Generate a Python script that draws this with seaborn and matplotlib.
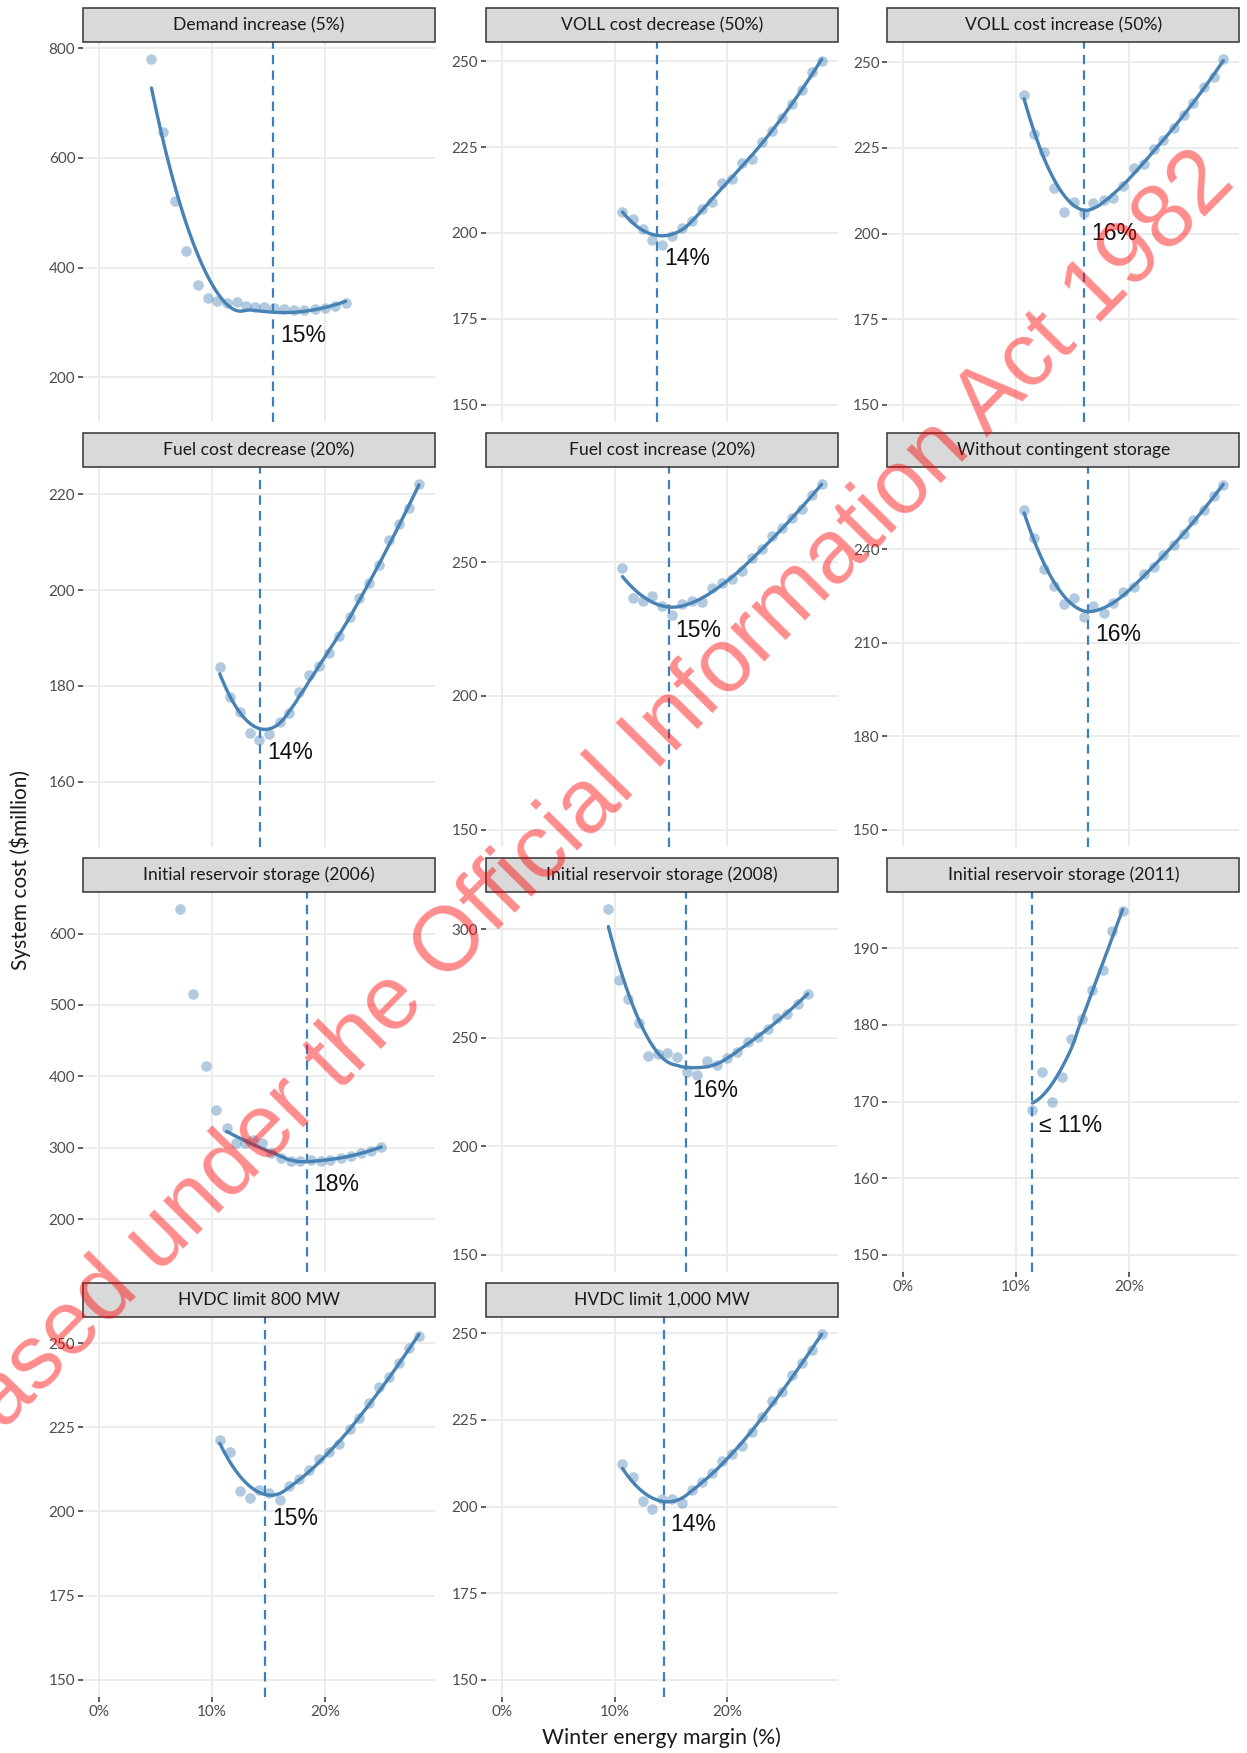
import numpy as np
import pandas as pd
import matplotlib
matplotlib.use("Agg")
import matplotlib.pyplot as plt
import seaborn as sns
from matplotlib.patches import Rectangle

# ---------------------------------------------------------------------------
# Sensitivity runs: system cost ($million) against winter energy margin (%)
# ---------------------------------------------------------------------------
panel_titles = [
    "Demand increase (5%)",
    "VOLL cost decrease (50%)",
    "VOLL cost increase (50%)",
    "Fuel cost decrease (20%)",
    "Fuel cost increase (20%)",
    "Without contingent storage",
    "Initial reservoir storage (2006)",
    "Initial reservoir storage (2008)",
    "Initial reservoir storage (2011)",
    "HVDC limit 800 MW",
    "HVDC limit 1,000 MW",
]

# winter energy margin (%) shared by most runs
margin_std = [10.7, 11.6, 12.5, 13.35, 14.2, 15.1, 16.0, 16.85, 17.75, 18.6, 19.5,
              20.4, 21.3, 22.2, 23.05, 23.95, 24.85, 25.7, 26.6, 27.5, 28.35]

margin_demand = [4.65, 5.7, 6.7, 7.75, 8.75, 9.65, 10.45, 11.35, 12.2, 13.0,
                 13.8, 14.6, 15.5, 16.4, 17.3, 18.2, 19.1, 20.0, 20.9, 21.85]
cost_demand = [780, 647, 521, 430, 369, 345, 339, 336, 337, 330,
               329, 328, 327, 325, 323, 323, 325, 327, 330, 335]

cost_voll_dec = [206.1, 204.2, 201.2, 198.0, 196.6, 199.2, 201.3, 203.6, 207.0, 209.1, 214.4,
                 215.6, 220.5, 221.4, 226.5, 229.6, 233.5, 237.5, 241.7, 246.8, 250.2]
cost_voll_inc = [240.4, 229.2, 223.9, 213.4, 206.3, 209.3, 206.0, 208.8, 209.7, 210.5, 213.8,
                 219.0, 220.3, 224.6, 227.3, 230.7, 234.6, 238.0, 242.7, 245.8, 250.9]
cost_fuel_dec = [184.0, 177.7, 174.5, 170.1, 168.7, 170.0, 172.4, 174.3, 178.7, 182.2, 184.1,
                 186.9, 190.4, 194.4, 198.4, 201.4, 205.2, 210.5, 213.9, 217.2, 222.1]
cost_fuel_inc = [247.9, 236.6, 235.4, 237.3, 233.5, 230.4, 234.5, 235.4, 235.0, 240.4, 242.3,
                 243.8, 246.6, 251.6, 254.8, 259.8, 262.9, 266.6, 270.0, 275.0, 279.1]
cost_no_contingent = [252.5, 243.7, 233.8, 228.2, 222.3, 224.5, 218.3, 221.7, 219.6, 222.8, 226.3,
                      227.9, 232.2, 234.3, 238.1, 241.3, 245.0, 249.3, 252.7, 257.0, 260.6]

margin_2006 = [7.2, 8.3, 9.5, 10.4, 11.3, 12.1, 12.9, 13.6, 14.45, 15.2, 16.1,
               17.0, 17.85, 18.75, 19.65, 20.5, 21.4, 22.3, 23.2, 24.1, 25.0]
cost_2006 = [634, 515, 414, 353, 328, 307, 307, 311, 306, 292, 285,
             281, 281, 283, 281, 283, 286, 289, 292, 296, 301]

margin_2008 = [9.45, 10.43, 11.23, 12.12, 12.95, 13.84, 14.67, 15.56, 16.44, 17.33, 18.22,
               19.11, 20.0, 20.89, 21.78, 22.67, 23.56, 24.36, 25.24, 26.22, 27.11]
cost_2008 = [309.2, 276.4, 268.0, 256.9, 241.8, 242.5, 243.0, 241.1, 234.1, 233.0, 239.1,
             237.6, 240.7, 243.5, 248.1, 250.2, 254.2, 258.9, 261.0, 265.6, 270.0]

margin_2011 = [11.44, 12.33, 13.21, 14.10, 14.90, 15.79, 16.68, 17.72, 18.52, 19.44]
cost_2011 = [168.9, 173.8, 169.9, 173.2, 178.2, 180.8, 184.6, 187.2, 192.3, 194.9]

cost_hvdc_800 = [221.2, 217.7, 206.2, 204.1, 206.5, 205.4, 203.4, 207.5, 209.7, 212.2, 215.7,
                 217.5, 219.9, 224.4, 227.6, 232.3, 236.8, 239.8, 244.2, 248.4, 252.2]
cost_hvdc_1000 = [212.4, 208.4, 201.6, 199.4, 202.1, 202.1, 201.1, 204.7, 207.1, 209.8, 213.2,
                  215.2, 217.4, 221.6, 225.8, 230.6, 233.1, 238.1, 241.3, 245.2, 249.7]

panel_margins = [margin_demand, margin_std, margin_std, margin_std, margin_std, margin_std,
                 margin_2006, margin_2008, margin_2011, margin_std, margin_std]
panel_costs = [cost_demand, cost_voll_dec, cost_voll_inc, cost_fuel_dec, cost_fuel_inc,
               cost_no_contingent, cost_2006, cost_2008, cost_2011, cost_hvdc_800, cost_hvdc_1000]

# smoother settings per run: fitted from this margin on, with this span
smooth_from = [0, 0, 0, 0, 0, 0, 11.0, 0, 0, 0, 0]
smooth_span = [1.0, 0.75, 0.75, 0.75, 0.75, 0.75, 0.75, 0.75, 1.0, 0.75, 0.75]

# least-cost winter energy margin (%) for each run
optimal_margin = [15.4, 13.75, 16.0, 14.3, 14.8, 16.4, 18.4, 16.3, 11.44, 14.75, 14.35]
optimal_prefix = ["", "", "", "", "", "", "", "", "\u2264 ", "", ""]

y_ticks = [
    [200, 400, 600, 800],
    [150, 175, 200, 225, 250],
    [150, 175, 200, 225, 250],
    [160, 180, 200, 220],
    [150, 200, 250],
    [150, 180, 210, 240],
    [200, 300, 400, 500, 600],
    [150, 200, 250, 300],
    [150, 160, 170, 180, 190],
    [150, 175, 200, 225, 250],
    [150, 175, 200, 225, 250],
]
x_ticks = [0, 10, 20]
x_tick_labels = ["0%", "10%", "20%"]
y_floor = 150


def loess(x, y, grid, span=0.75):
    """Local quadratic regression with tricube weights."""
    x = np.asarray(x, float)
    y = np.asarray(y, float)
    n = len(x)
    q = min(n, int(np.floor(n * span)))
    fitted = []
    for x0 in grid:
        d = np.abs(x - x0)
        h = np.sort(d)[q - 1] * max(1.0, span)
        w = (1 - np.clip(d / h, 0, 1) ** 3) ** 3
        A = np.column_stack([np.ones(n), x - x0, (x - x0) ** 2])
        sw = np.sqrt(w)
        beta = np.linalg.lstsq(A * sw[:, None], y * sw, rcond=None)[0]
        fitted.append(beta[0])
    return np.array(fitted)


# ---------------------------------------------------------------------------
sns.set_theme(style="white")
plt.rcParams["font.family"] = ["Lato", "DejaVu Sans"]
label_family = ["Liberation Sans", "DejaVu Sans"]

POINT = "#4682B4"
LINE = "#4682B4"
DASH = "#3D7FC1"
GRID = "#EBEBEB"
TICK = "#333333"
TICKLABEL = "#4D4D4D"

W, H = 1247, 1753
fig = plt.figure(figsize=(W / 100, H / 100), dpi=100)
fig.patch.set_facecolor("white")

col_left = [83, 485.7, 887.3]
panel_w, panel_h = 352, 380
row_top0, row_pitch = 42, 425
strip_h = 34

all_x = [v for m in panel_margins for v in m]
x_lo, x_hi = 0.0, max(all_x)
x_pad = 0.05 * (x_hi - x_lo)

n_panels = len(panel_titles)
bottom_panels = {8, 9, 10}

for i in range(n_panels):
    r, c = divmod(i, 3)
    top = row_top0 + r * row_pitch
    ax = fig.add_axes([col_left[c] / W, 1 - (top + panel_h) / H, panel_w / W, panel_h / H])
    ax.set_facecolor("white")

    df = pd.DataFrame({"margin": panel_margins[i], "cost": panel_costs[i]})
    fit = df[df["margin"] >= smooth_from[i]]
    grid = np.linspace(fit["margin"].min(), fit["margin"].max(), 80)
    smooth = pd.DataFrame({"margin": grid,
                           "cost": loess(fit["margin"], fit["cost"], grid, smooth_span[i])})

    ax.grid(True, color=GRID, lw=1.3, zorder=0)
    ax.set_axisbelow(True)

    sns.scatterplot(data=df, x="margin", y="cost", ax=ax, color=POINT, alpha=0.42,
                    s=58, linewidth=0, zorder=2, legend=False)
    ax.axvline(optimal_margin[i], color=DASH, lw=1.6, ls=(0, (4.2, 2.8)), zorder=2.5)
    sns.lineplot(data=smooth, x="margin", y="cost", ax=ax, color=LINE, lw=2.4,
                 zorder=3, legend=False)

    y_min_curve = smooth["cost"].min()
    lo = min(y_floor, df["cost"].min(), y_min_curve)
    hi = max(df["cost"].max(), smooth["cost"].max())
    pad = 0.05 * (hi - lo)
    ax.set_ylim(lo - pad, hi + pad)
    ax.set_xlim(x_lo - x_pad, x_hi + x_pad)

    label = f"{optimal_prefix[i]}{round(optimal_margin[i]):d}%"
    ax.annotate(label, xy=(optimal_margin[i], y_min_curve), xytext=(5, -16.5),
                textcoords="offset points", ha="left", va="center", fontsize=16.5,
                color="#111111", family=label_family, zorder=4)

    ax.set_yticks(y_ticks[i])
    ax.set_yticklabels([str(t) for t in y_ticks[i]])
    ax.set_xticks(x_ticks)
    if i in bottom_panels:
        ax.set_xticklabels(x_tick_labels)
        ax.tick_params(axis="x", length=3.5, width=1.1, color=TICK, labelsize=11,
                       labelcolor=TICKLABEL, pad=2, bottom=True)
    else:
        ax.set_xticklabels([])
        ax.tick_params(axis="x", length=0, bottom=False)
    ax.tick_params(axis="y", length=3.5, width=1.1, color=TICK, labelsize=11,
                   labelcolor=TICKLABEL, pad=2, left=True)
    ax.set_xlabel("")
    ax.set_ylabel("")
    for s in ax.spines.values():
        s.set_visible(False)

    # facet strip
    strip_frac = strip_h / panel_h
    ax.add_patch(Rectangle((0, 1), 1, strip_frac, transform=ax.transAxes, clip_on=False,
                           facecolor="#D9D9D9", edgecolor="#333333", lw=1.1, zorder=5))
    ax.text(0.5, 1 + strip_frac / 2, panel_titles[i], transform=ax.transAxes,
            ha="center", va="center", fontsize=12.6, color="#1A1A1A", zorder=6)

# axis titles
fig.text(20 / W, 1 - 870 / H, "System cost ($million)", rotation=90, ha="center",
         va="center", fontsize=15, color="#1A1A1A")
fig.text(661 / W, 1 - 1738 / H, "Winter energy margin (%)", ha="center", va="center",
         fontsize=15.3, color="#1A1A1A")

# release stamp across the page
fig.text(538 / W, 1 - 857 / H, "Released under the Official Information Act 1982",
         rotation=45.3, rotation_mode="anchor", ha="center", va="center",
         fontsize=65, color="#FF0000", alpha=0.45, family=label_family, zorder=20)

fig.savefig("out.png", dpi=100, facecolor="white")
